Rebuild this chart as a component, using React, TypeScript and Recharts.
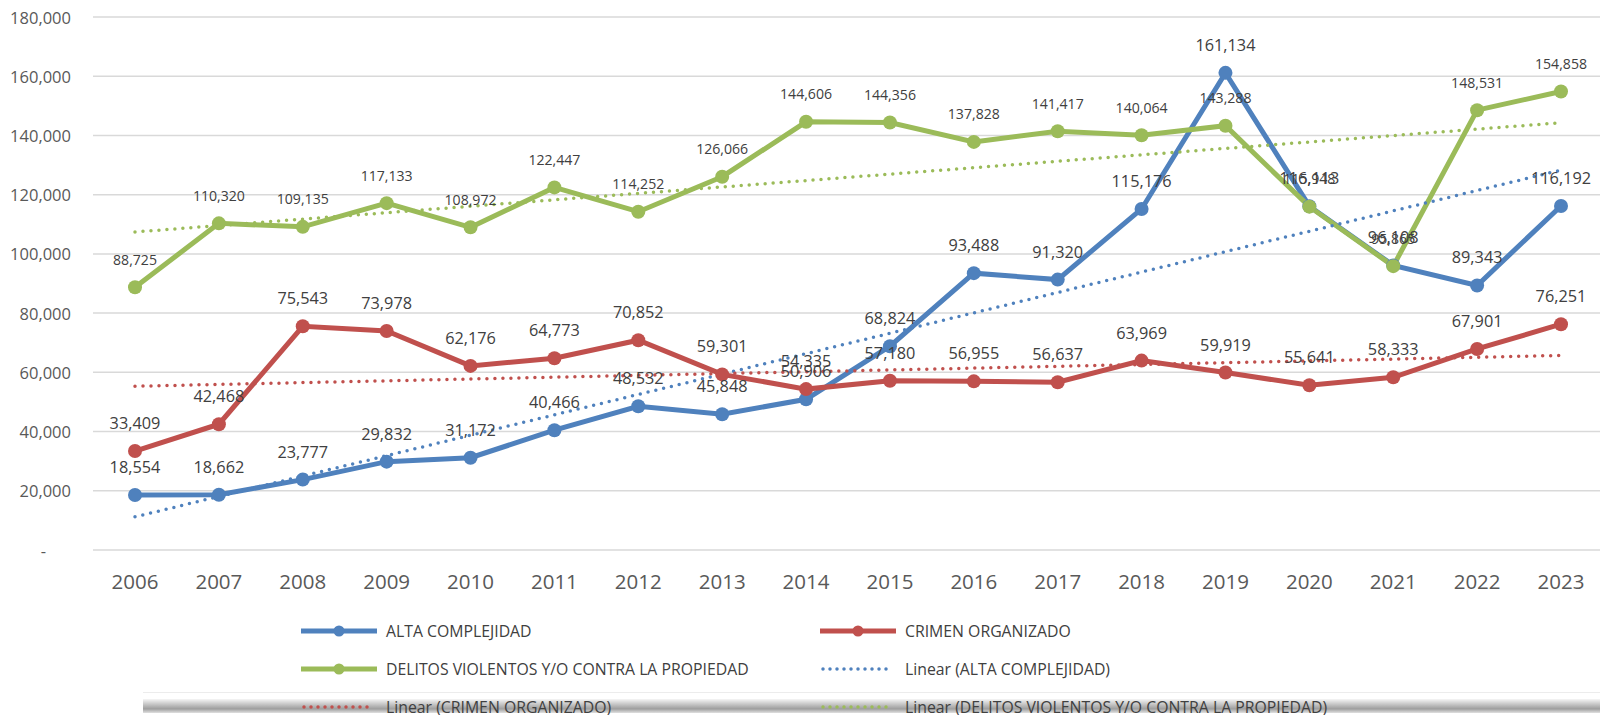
import React from 'react';
import { LineChart, Line, XAxis, YAxis, CartesianGrid, LabelList } from 'recharts';

const years = ['2006', '2007', '2008', '2009', '2010', '2011', '2012', '2013', '2014', '2015', '2016', '2017', '2018', '2019', '2020', '2021', '2022', '2023'];

const altaComplejidad = [18554, 18662, 23777, 29832, 31172, 40466, 48532, 45848, 50906, 68824, 93488, 91320, 115176, 161134, 116113, 96108, 89343, 116192];
const crimenOrganizado = [33409, 42468, 75543, 73978, 62176, 64773, 70852, 59301, 54335, 57180, 56955, 56637, 63969, 59919, 55641, 58333, 67901, 76251];
const delitosViolentos = [88725, 110320, 109135, 117133, 108972, 122447, 114252, 126066, 144606, 144356, 137828, 141417, 140064, 143288, 115948, 95865, 148531, 154858];

// trend lines: only start (2006) and end (2023)
const trendAltaEnds = [11200, 128300];
const trendCrimenEnds = [55300, 65700];
const trendDelitosEnds = [107400, 144300];

const yTicks = [0, 20000, 40000, 60000, 80000, 100000, 120000, 140000, 160000, 180000];

const BLUE = '#4F81BD';
const RED = '#C0504D';
const GREEN = '#9BBB59';
const FONT = '"Open Sans", sans-serif';

const ends = (pair: number[], i: number) => (i === 0 ? pair[0] : i === years.length - 1 ? pair[1] : null);

const data = years.map((year, i) => ({
  year,
  alta: altaComplejidad[i],
  crimen: crimenOrganizado[i],
  delitos: delitosViolentos[i],
  trendAlta: ends(trendAltaEnds, i),
  trendCrimen: ends(trendCrimenEnds, i),
  trendDelitos: ends(trendDelitosEnds, i),
}));

const fmt = (v: number) => v.toLocaleString('en-US');

const XTick = (props: any) => {
  const { x, y, payload } = props;
  return (
    <text x={x} y={y + 31} textAnchor="middle" dominantBaseline="central" fontSize={20.5} fill="#595959" fontFamily={FONT}>
      {payload.value}
    </text>
  );
};

const YTick = (props: any) => {
  const { x, y, payload } = props;
  const isZero = payload.value === 0;
  return (
    <text x={isZero ? x - 47 : x - 22} y={y} textAnchor="end" dominantBaseline="central" fontSize={16.5} fill="#595959" fontFamily={FONT}>
      {isZero ? '-' : fmt(payload.value)}
    </text>
  );
};

const makeLabel = (size: number) => (props: any) => {
  const { x, y, value } = props;
  if (value == null) return null;
  return (
    <text x={x} y={y - 28} textAnchor="middle" dominantBaseline="central" fontSize={size} fill="#404040" fontFamily={FONT}>
      {fmt(value)}
    </text>
  );
};

const legendItems = [
  { label: 'ALTA COMPLEJIDAD', color: BLUE, trend: false, left: 301, top: 631 },
  { label: 'CRIMEN ORGANIZADO', color: RED, trend: false, left: 820, top: 631 },
  { label: 'DELITOS VIOLENTOS Y/O CONTRA LA PROPIEDAD', color: GREEN, trend: false, left: 301, top: 669 },
  { label: 'Linear (ALTA COMPLEJIDAD)', color: BLUE, trend: true, left: 820, top: 669 },
  { label: 'Linear (CRIMEN ORGANIZADO)', color: RED, trend: true, left: 301, top: 707 },
  { label: 'Linear (DELITOS VIOLENTOS Y/O CONTRA LA PROPIEDAD)', color: GREEN, trend: true, left: 820, top: 707 },
];

const LegendIcon = ({ color, trend }: { color: string; trend: boolean }) => (
  <svg width={76} height={14} style={{ display: 'block' }}>
    {trend ? (
      <line x1={3} y1={7} x2={70} y2={7} stroke={color} strokeWidth={3.5} strokeDasharray="0 7" strokeLinecap="round" />
    ) : (
      <>
        <line x1={0} y1={7} x2={76} y2={7} stroke={color} strokeWidth={5} />
        <circle cx={38} cy={7} r={5.5} fill={color} />
      </>
    )}
  </svg>
);

const App: React.FC = () => {
  return (
    <div style={{ position: 'fixed', left: 0, top: 0, width: 1600, height: 715, overflow: 'hidden', background: '#fff', fontFamily: FONT }}>
      <LineChart width={1610} height={715} data={data} margin={{ top: 17, right: 7, left: 0, bottom: 125 }}>
        <CartesianGrid vertical={false} stroke="#d9d9d9" strokeWidth={1.5} />
        <XAxis dataKey="year" axisLine={false} tickLine={false} tickSize={0} tickMargin={0} height={40} padding={{ left: 42, right: 42 }} interval={0} tick={<XTick />} />
        <YAxis domain={[0, 180000]} ticks={yTicks} axisLine={false} tickLine={false} tickSize={0} tickMargin={0} width={93} tick={<YTick />} interval={0} />
        <Line dataKey="alta" stroke={BLUE} strokeWidth={5} dot={{ r: 7, fill: BLUE, stroke: BLUE, strokeWidth: 0 }} isAnimationActive={false}>
          <LabelList dataKey="alta" content={makeLabel(16.3)} />
        </Line>
        <Line dataKey="crimen" stroke={RED} strokeWidth={5} dot={{ r: 7, fill: RED, stroke: RED, strokeWidth: 0 }} isAnimationActive={false}>
          <LabelList dataKey="crimen" content={makeLabel(16.3)} />
        </Line>
        <Line dataKey="delitos" stroke={GREEN} strokeWidth={5} dot={{ r: 7, fill: GREEN, stroke: GREEN, strokeWidth: 0 }} isAnimationActive={false}>
          <LabelList dataKey="delitos" content={makeLabel(14.1)} />
        </Line>
        <Line dataKey="trendAlta" stroke={BLUE} strokeWidth={3.5} strokeDasharray="0 8" strokeLinecap="round" dot={false} connectNulls isAnimationActive={false} />
        <Line dataKey="trendCrimen" stroke={RED} strokeWidth={3.5} strokeDasharray="0 8" strokeLinecap="round" dot={false} connectNulls isAnimationActive={false} />
        <Line dataKey="trendDelitos" stroke={GREEN} strokeWidth={3.5} strokeDasharray="0 8" strokeLinecap="round" dot={false} connectNulls isAnimationActive={false} />
      </LineChart>

      <div style={{ position: 'absolute', left: 143, top: 692, width: 1457, height: 1, background: '#ececec' }} />
      <div
        style={{
          position: 'absolute',
          left: 143,
          top: 699,
          width: 1457,
          height: 14,
          background: 'linear-gradient(to bottom, rgba(0,0,0,0.04), rgba(0,0,0,0.38) 70%, rgba(0,0,0,0.12))',
        }}
      />

      {legendItems.map((item) => (
        <div key={item.label} style={{ position: 'absolute', left: item.left, top: item.top - 11, height: 22, display: 'flex', alignItems: 'center' }}>
          <LegendIcon color={item.color} trend={item.trend} />
          <span style={{ marginLeft: 9, fontSize: 15.8, color: '#404040', whiteSpace: 'nowrap' }}>{item.label}</span>
        </div>
      ))}
    </div>
  );
};

export default App;
